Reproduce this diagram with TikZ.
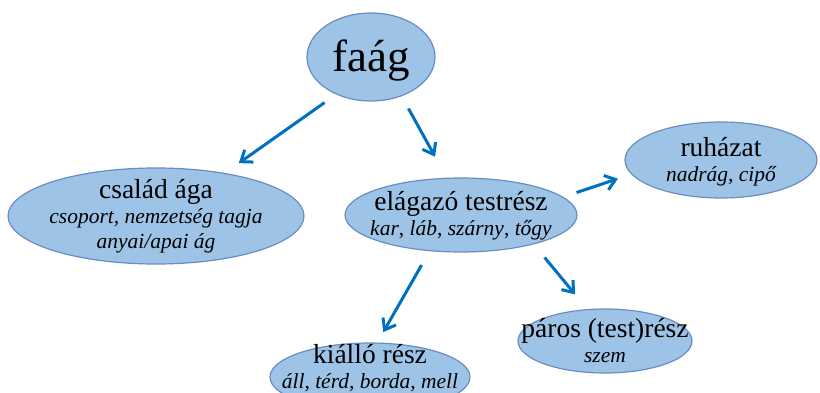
\documentclass[tikz,border=0pt]{standalone}
\usepackage{fontspec}
\setmainfont{Liberation Serif}
\usetikzlibrary{shapes.geometric,arrows.meta}
\definecolor{bubblefill}{HTML}{9DC3E6}
\definecolor{bubbleline}{HTML}{6A8DC0}
\definecolor{arrowblue}{HTML}{0070C0}
\newcommand{\headsize}{\fontsize{27.5}{25}\selectfont}
\newcommand{\subsize}{\fontsize{21.5}{25}\selectfont\itshape}

\begin{document}
\begin{tikzpicture}[x=1pt,y=1pt,
  bubble/.style={ellipse, draw=bubbleline, line width=1.2pt, fill=bubblefill, inner sep=0pt},
  txt/.style={align=center, inner sep=0pt, font=\headsize},
  arr/.style={draw=arrowblue, line width=3pt, -{Straight Barb[length=10pt,width=15pt]}}]
\useasboundingbox (0,0) rectangle (820,392);
% bubbles
\node[bubble, minimum width=128pt, minimum height=88pt] (top) at (371,335){};
\node[bubble, minimum width=296pt, minimum height=96pt] (fam) at (156,176){};
\node[bubble, minimum width=232pt, minimum height=74pt] (body) at (461,177){};
\node[bubble, minimum width=192pt, minimum height=76pt] (cloth) at (721,232){};
\node[bubble, minimum width=200pt, minimum height=68pt] (kid) at (370,15){};
\node[bubble, minimum width=174pt, minimum height=64pt] (pair) at (605,51){};
% texts
\node[txt, font=\fontsize{45}{45}\selectfont, yshift=-4pt] (toptxt) at (top) {faág};
\node[txt] (famtxt) at (fam) {család ága\\{\subsize csoport, nemzetség tagja}\\{\subsize anyai/apai ág}};
\node[txt, yshift=-1pt] (bodytxt) at (body) {elágazó testrész\\{\subsize\textit{kar}\upshape, \textit{láb}\upshape, \textit{szárny}\upshape, \textit{tőgy}}};
\node[txt, yshift=-2pt] (clothtxt) at (cloth) {ruházat\\{\subsize nadrág, cipő}};
\node[txt, yshift=9pt] (kidtxt) at (kid) {kiálló rész\\{\subsize áll, térd, borda, mell}};
\node[txt] (pairtxt) at (pair) {páros (test)rész\\{\subsize szem}};
% arrows
\draw[arr, shorten <=14pt, shorten >=17pt] (top.227) -- (fam.32);
\draw[arr, shorten <=14pt, shorten >=24pt] (top.308) -- (body.111);
\draw[arr, shorten <=14pt, shorten >=14pt] (body.10) -- (cloth.189);
\draw[arr, shorten <=16pt, shorten >=12pt] (body.229) -- (kid.78);
\draw[arr, shorten <=17pt, shorten >=19pt] (body.338) -- (pair.119);
\end{tikzpicture}
\end{document}
